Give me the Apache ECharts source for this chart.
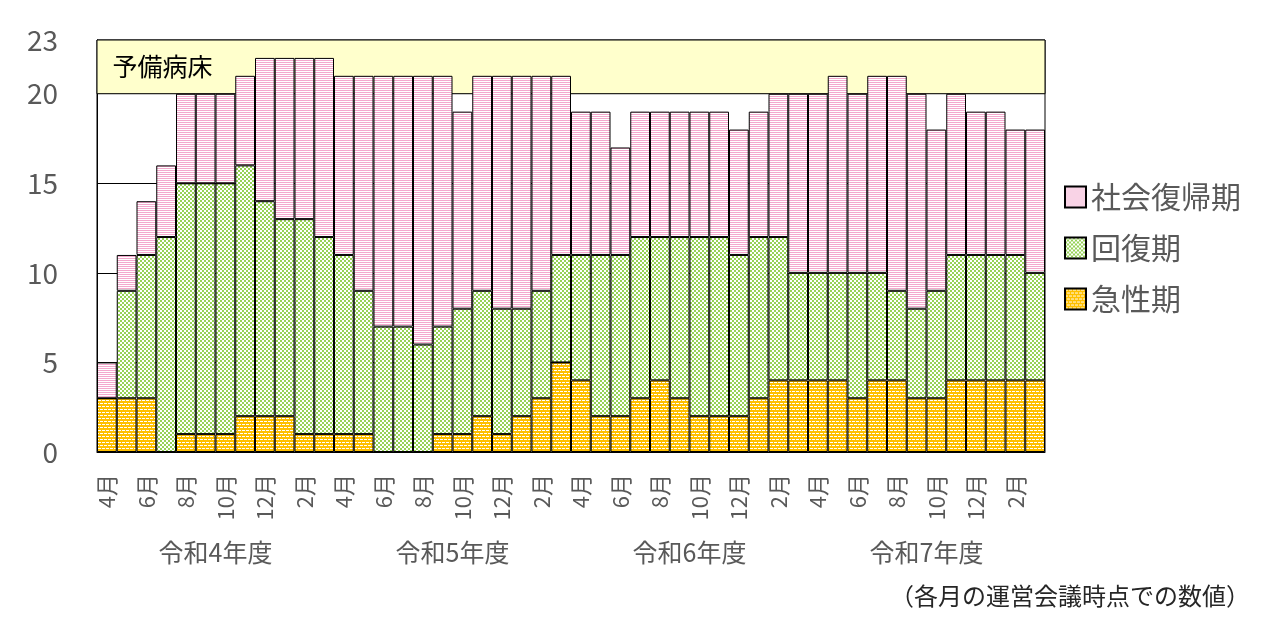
<!DOCTYPE html>
<html>
<head>
<meta charset="utf-8">
<script src="https://cdn.jsdelivr.net/npm/echarts@6/dist/echarts.min.js"></script>
<style>
  html, body { margin: 0; padding: 0; background: #fff; }
  #bedChart { width: 1280px; height: 632px; }
</style>
</head>
<body>
<div id="bedChart"></div>
<script>
// 月ラベル（令和4年度〜令和7年度、4月始まり）
var monthNames = ['4月', '5月', '6月', '7月', '8月', '9月', '10月', '11月', '12月', '1月', '2月', '3月'];
var months = [].concat(monthNames, monthNames, monthNames, monthNames);
var fiscalYears = ['令和4年度', '令和5年度', '令和6年度', '令和7年度'];
var yTicks = [0, 5, 10, 15, 20, 23];

// 病床数（各月）
var acute = [3, 3, 3, 0, 1, 1, 1, 2, 2, 2, 1, 1,
	1, 1, 0, 0, 0, 1, 1, 2, 1, 2, 3, 5,
	4, 2, 2, 3, 4, 3, 2, 2, 2, 3, 4, 4,
	4, 4, 3, 4, 4, 3, 3, 4, 4, 4, 4, 4];
var recovery = [0, 6, 8, 12, 14, 14, 14, 14, 12, 11, 12, 11,
	10, 8, 7, 7, 6, 6, 7, 7, 7, 6, 6, 6,
	7, 9, 9, 9, 8, 9, 10, 10, 9, 9, 8, 6,
	6, 6, 7, 6, 5, 5, 6, 7, 7, 7, 7, 6];
var social = [2, 2, 3, 4, 5, 5, 5, 5, 8, 9, 9, 10,
	10, 12, 14, 14, 15, 14, 11, 12, 13, 13, 12, 10,
	8, 8, 6, 7, 7, 7, 7, 7, 7, 7, 8, 10,
	10, 11, 10, 11, 12, 12, 9, 9, 8, 8, 7, 8];
var spareBeds = [20, 23];

// 塗りつぶしパターン
function makeTile(w, h, bg, fg, cells) {
	var c = document.createElement('canvas');
	c.width = w;
	c.height = h;
	var ctx = c.getContext('2d');
	ctx.fillStyle = bg;
	ctx.fillRect(0, 0, w, h);
	ctx.fillStyle = fg;
	cells.forEach(function (r) {
		ctx.fillRect(r[0], r[1], r[2], r[3]);
	});
	return { image: c, repeat: 'repeat' };
}
var stripePink = makeTile(4, 2, '#ffffff', '#f4a8cd', [[0, 0, 4, 1]]);
var checkGreen = makeTile(4, 4, '#ffffff', '#96d256', [[0, 0, 2, 2], [2, 2, 2, 2]]);
var dashOrange = makeTile(8, 6, '#ffc000', '#ffffff', [[0, 1, 3, 1], [4, 1, 3, 1], [2, 4, 3, 1], [6, 4, 2, 1], [0, 4, 1, 1]]);

var barStyle = function (fill) {
	return { color: fill, borderColor: '#000', borderWidth: 1 };
};

var myChart = echarts.init(document.getElementById('bedChart'));

var option = {
	animation: false,
	textStyle: { fontFamily: '"Noto Sans CJK JP", "Noto Sans", sans-serif' },
	grid: {
		left: 97, right: 235, top: 40, bottom: 180,
		show: true, borderColor: '#000', borderWidth: 1
	},
	legend: {
		orient: 'vertical',
		left: 1059,
		top: 175,
		data: ['社会復帰期', '回復期', '急性期'],
		icon: 'rect',
		itemWidth: 21,
		itemHeight: 21,
		itemGap: 17,
		itemTextGap: 12,
		textStyle: { fontSize: 30, color: '#595959', lineHeight: 34 }
	},
	xAxis: [{
		type: 'category',
		data: months,
		axisLine: { lineStyle: { color: '#000', width: 1 } },
		axisTick: { show: false },
		axisLabel: {
			interval: 1,
			rotate: 90,
			margin: 22,
			fontSize: 22,
			color: '#595959'
		}
	}, {
		type: 'category',
		data: fiscalYears,
		position: 'bottom',
		axisLine: { show: false },
		axisTick: { show: false },
		axisLabel: { margin: 88, fontSize: 25, color: '#595959' }
	}],
	yAxis: {
		type: 'value',
		min: yTicks[0],
		max: yTicks[yTicks.length - 1],
		interval: 5,
		axisLine: { show: true, lineStyle: { color: '#000' } },
		axisTick: { show: false },
		splitLine: { lineStyle: { color: '#000', width: 1 } },
		axisLabel: { fontSize: 28, color: '#595959', margin: 39 }
	},
	graphic: [{
		type: 'text',
		right: 30,
		top: 584,
		style: {
			text: '（各月の運営会議時点での数値）',
			fontSize: 24,
			fill: '#262626',
			fontFamily: '"Noto Sans CJK JP", sans-serif'
		}
	}],
	series: [{
		name: '急性期',
		type: 'bar',
		stack: 'beds',
		barCategoryGap: '0%',
		data: acute,
		itemStyle: barStyle(dashOrange),
		markArea: {
			silent: true,
			itemStyle: { color: '#ffffcc', borderColor: '#000', borderWidth: 1 },
			label: {
				show: true,
				position: 'insideLeft',
				distance: 16,
				color: '#000',
				fontSize: 25
			},
			data: [[{ name: '予備病床', yAxis: spareBeds[0] }, { yAxis: spareBeds[1] }]]
		}
	}, {
		name: '回復期',
		type: 'bar',
		stack: 'beds',
		barCategoryGap: '0%',
		data: recovery,
		itemStyle: barStyle(checkGreen)
	}, {
		name: '社会復帰期',
		type: 'bar',
		stack: 'beds',
		barCategoryGap: '0%',
		data: social,
		itemStyle: barStyle(stripePink)
	}]
};

myChart.setOption(option);
</script>
</body>
</html>
